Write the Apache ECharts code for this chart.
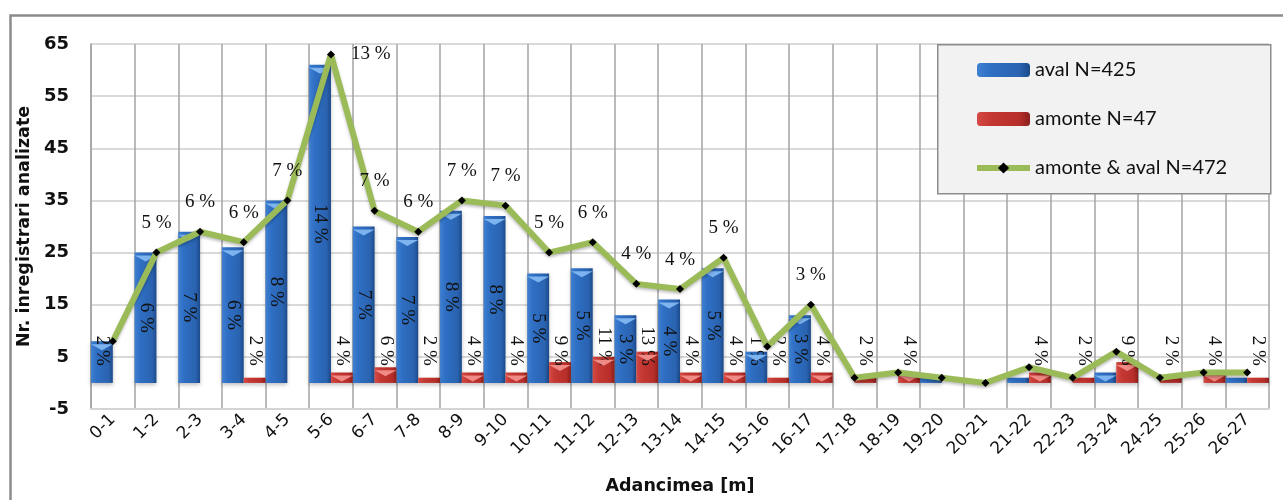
<!DOCTYPE html>
<html>
<head>
<meta charset="utf-8">
<script src="https://cdn.jsdelivr.net/npm/echarts@6/dist/echarts.min.js"></script>
<style>
  html, body { margin: 0; padding: 0; background: #ffffff; }
  #chart { width: 1283px; height: 500px; }
</style>
</head>
<body>
<div id="chart"></div>
<script>
// Depth classes (metres)
const categories = ['0-1', '1-2', '2-3', '3-4', '4-5', '5-6', '6-7', '7-8', '8-9', '9-10',
  '10-11', '11-12', '12-13', '13-14', '14-15', '15-16', '16-17', '17-18', '18-19', '19-20',
  '20-21', '21-22', '22-23', '23-24', '24-25', '25-26', '26-27'];

// Records analysed per depth class
const aval = [8, 25, 29, 26, 35, 61, 30, 28, 33, 32, 21, 22, 13, 16, 22, 6, 13, 0, 0, 1, 0, 1, 0, 2, 0, 0, 1];
const amonte = [0, 0, 0, 1, 0, 2, 3, 1, 2, 2, 4, 5, 6, 2, 2, 1, 2, 1, 2, 0, 0, 2, 1, 4, 1, 2, 1];
const total = [8, 25, 29, 27, 35, 63, 33, 29, 35, 34, 25, 27, 19, 18, 24, 7, 15, 1, 2, 1, 0, 3, 1, 6, 1, 2, 2];

const N_AVAL = 425, N_AMONTE = 47, N_TOTAL = 472;
const seriesNames = ['aval N=425', 'amonte N=47', 'amonte & aval N=472'];
const yTicks = { min: -5, max: 65, step: 10 };

const pct = (v, n) => Math.round(v / n * 100) + ' %';
const labelFont = { fontFamily: 'Liberation Serif', fontSize: 19, color: '#111' };
const axisFont = 'DejaVu Sans';

// label anchored a little above the bar base, text running downward
const baseLabel = {
  show: true, position: 'insideBottom', distance: 17, rotate: -90,
  align: 'right', verticalAlign: 'middle', ...labelFont
};
const midLabel = {
  show: true, position: 'inside', rotate: -90,
  align: 'center', verticalAlign: 'middle', ...labelFont
};

const avalData = aval.map(v => ({
  value: v,
  label: v >= 5 ? { ...(v < 10 ? baseLabel : midLabel), formatter: () => pct(v, N_AVAL) } : { show: false }
}));
const amonteData = amonte.map(v => ({
  value: v,
  label: v > 0 ? { ...baseLabel, formatter: () => pct(v, N_AMONTE) } : { show: false }
}));
const peak = Math.max(...total);
const totalData = total.map(v => ({
  value: v,
  label: v >= 10
    ? { show: true, position: v === peak ? 'right' : 'top', distance: 16, ...labelFont,
        formatter: () => pct(v, N_TOTAL) }
    : { show: false }
}));

const blueFill = { type: 'linear', x: 0, y: 0, x2: 1, y2: 0, colorStops: [
  { offset: 0, color: '#3f80d2' }, { offset: 0.25, color: '#2f6fc4' },
  { offset: 0.8, color: '#2a63b0' }, { offset: 1, color: '#1c4a8a' }] };
const redFill = { type: 'linear', x: 0, y: 0, x2: 1, y2: 0, colorStops: [
  { offset: 0, color: '#d54a44' }, { offset: 0.25, color: '#c53833' },
  { offset: 0.8, color: '#b62e2a' }, { offset: 1, color: '#8a1f1c' }] };

const capPath = 'path://M0,0 L20,0 L10,6 Z';
const caps = (arr) => arr.map(v => v >= 2 ? v : '-');

const chart = echarts.init(document.getElementById('chart'), null, { renderer: 'canvas' });
chart.setOption({
  animation: false,
  backgroundColor: '#ffffff',
  textStyle: { fontFamily: axisFont },
  grid: { left: 91, right: 14, top: 44, bottom: 89, containLabel: false },
  graphic: [
    { type: 'rect', left: 8, top: 13, z: 0, silent: true,
      shape: { width: 1300, height: 600 },
      style: { fill: null, stroke: '#8c8c8c', lineWidth: 2.5 } },
    { type: 'rect', left: 937, top: 44, z: 3, silent: true,
      shape: { width: 333, height: 149 },
      style: { fill: '#f2f2f2', stroke: '#8c8c8c', lineWidth: 1.5 } }
  ],
  legend: {
    data: [
      { name: seriesNames[0] },
      { name: seriesNames[1] },
      { name: seriesNames[2], lineStyle: { width: 6, color: '#9bbb59' }, itemStyle: { color: '#000000' } }
    ],
    orient: 'vertical',
    left: 974, top: 60, z: 10, padding: 0,
    itemWidth: 53, itemHeight: 14, itemGap: 29,
    textStyle: { fontFamily: 'Lato', fontSize: 20, color: '#111', lineHeight: 20 }
  },
  xAxis: {
    type: 'category',
    data: categories,
    boundaryGap: true,
    axisLine: { show: true, onZero: false, lineStyle: { color: '#d4d4d4', width: 2 } },
    axisTick: { show: false },
    splitLine: { show: true, lineStyle: { color: '#a3a3a3', width: 1.5 } },
    axisLabel: { interval: 0, rotate: 45, margin: 8, fontFamily: axisFont, fontSize: 17, color: '#111' },
    name: 'Adancimea [m]',
    nameLocation: 'middle',
    nameGap: 68,
    nameTextStyle: { fontFamily: axisFont, fontWeight: 'bold', fontSize: 17.5, color: '#111' }
  },
  yAxis: {
    type: 'value',
    min: yTicks.min, max: yTicks.max, interval: yTicks.step,
    axisLine: { show: true, lineStyle: { color: '#a3a3a3', width: 1.5 } },
    axisTick: { show: false },
    splitLine: { show: true, lineStyle: { color: '#d9d9d9', width: 2 } },
    axisLabel: { margin: 22, fontFamily: axisFont, fontWeight: 'bold', fontSize: 18, color: '#111' },
    name: 'Nr. inregistrari analizate',
    nameLocation: 'middle',
    nameGap: 52,
    nameTextStyle: { fontFamily: axisFont, fontWeight: 'bold', fontSize: 17.5, color: '#111' }
  },
  series: [
    { name: seriesNames[0], type: 'bar', data: avalData, barGap: '0%', barCategoryGap: '0%',
      itemStyle: { color: blueFill, shadowColor: 'rgba(0,0,0,0.25)', shadowBlur: 4, shadowOffsetY: 2 }, z: 2 },
    { name: seriesNames[1], type: 'bar', data: amonteData, barGap: '0%', barCategoryGap: '0%',
      itemStyle: { color: redFill, shadowColor: 'rgba(0,0,0,0.25)', shadowBlur: 4, shadowOffsetY: 2 }, z: 2 },
    // bevel highlights on the bar tops
    { name: 'cap-aval', type: 'pictorialBar', data: caps(aval), barGap: '0%', barCategoryGap: '0%',
      symbol: capPath, symbolSize: ['100%', 6], symbolPosition: 'end', symbolOffset: [0, '50%'],
      itemStyle: { color: '#7db3ee' }, z: 3, silent: true },
    { name: 'cap-amonte', type: 'pictorialBar', data: caps(amonte), barGap: '0%', barCategoryGap: '0%',
      symbol: capPath, symbolSize: ['100%', 6], symbolPosition: 'end', symbolOffset: [0, '50%'],
      itemStyle: { color: '#f08a84' }, z: 3, silent: true },
    { name: seriesNames[2], type: 'line', data: totalData,
      symbol: 'diamond', symbolSize: 8,
      itemStyle: { color: '#000000' },
      lineStyle: { color: '#9bbb59', width: 6, shadowColor: 'rgba(0,0,0,0.25)', shadowBlur: 3, shadowOffsetY: 2 },
      z: 6 }
  ]
});
</script>
</body>
</html>
